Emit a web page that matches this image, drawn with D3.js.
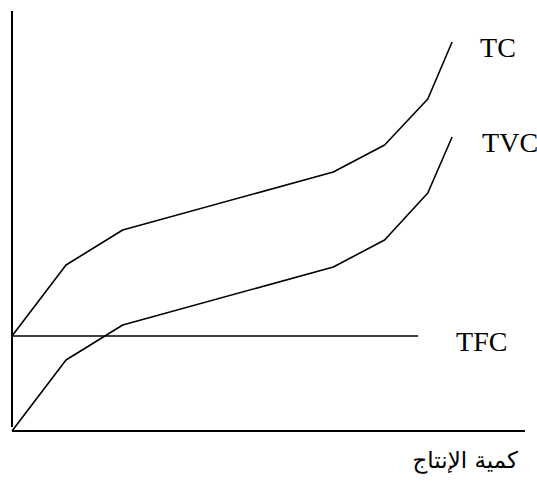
<!DOCTYPE html>
<html>
<head>
<meta charset="utf-8">
<script src="https://cdn.jsdelivr.net/npm/d3@7"></script>
<style>
  html, body { margin: 0; padding: 0; background: #fff; }
  .curve { fill: none; stroke: #000; stroke-width: 1.6; stroke-linejoin: round; }
  .axis-line { stroke: #000; stroke-width: 2; }
  .lbl { font-family: "Liberation Serif", "Times New Roman", serif; font-size: 28px; fill: #000; }
  .xlbl { font-family: "DejaVu Sans", sans-serif; font-size: 23px; fill: #000; }
</style>
</head>
<body>
<div id="chart"></div>
<script>
// --- data (quantity in arbitrary units, cost in arbitrary units) ---
const quantity = [0, 1, 2.05, 5.95, 6.9, 7.7, 8.15];
const tvcValues = [0, 7.1, 10.6, 16.4, 19.1, 23.8, 29.4];
const tcValues = [9.5, 16.6, 20.1, 25.9, 28.6, 33.2, 38.9];
const tfcValue = 9.5;
const tfcEnd = 7.52;
const seriesLabels = ["TC", "TVC", "TFC"];
const xAxisLabel = "كمية الإنتاج";

// --- setup ---
const W = 537, H = 483;
const svg = d3.select("#chart").append("svg")
    .attr("width", W)
    .attr("height", H);

const x = d3.scaleLinear().domain([0, 9.5]).range([12, 525]);
const y = d3.scaleLinear().domain([0, 42]).range([431, 11]);

const line = d3.line()
    .x(d => x(d[0]))
    .y(d => y(d[1]));

// axes (plain lines, no ticks)
svg.append("line")
    .attr("class", "axis-line")
    .attr("x1", x(0)).attr("x2", x(0))
    .attr("y1", y(42)).attr("y2", y(0.4));

svg.append("line")
    .attr("class", "axis-line")
    .attr("x1", x(0)).attr("x2", x(9.5))
    .attr("y1", y(0)).attr("y2", y(0));

// TFC - flat line
svg.append("path")
    .attr("class", "curve")
    .attr("d", line([[0, tfcValue], [tfcEnd, tfcValue]]));

// TVC
svg.append("path")
    .attr("class", "curve")
    .attr("d", line(quantity.map((q, i) => [q, tvcValues[i]])));

// TC
svg.append("path")
    .attr("class", "curve")
    .attr("d", line(quantity.map((q, i) => [q, tcValues[i]])));

// labels
const lastQ = quantity[quantity.length - 1];
svg.append("text").attr("class", "lbl")
    .attr("x", x(lastQ) + 28).attr("y", y(tcValues[tcValues.length - 1]) + 15)
    .text(seriesLabels[0]);

svg.append("text").attr("class", "lbl")
    .attr("x", x(lastQ) + 30).attr("y", y(tvcValues[tvcValues.length - 1]) + 15)
    .text(seriesLabels[1]);

svg.append("text").attr("class", "lbl")
    .attr("x", x(tfcEnd) + 38).attr("y", y(tfcValue) + 15)
    .text(seriesLabels[2]);

svg.append("text").attr("class", "xlbl")
    .attr("x", 518).attr("y", y(0) + 37)
    .style("text-anchor", "end")
    .text(xAxisLabel);
</script>
</body>
</html>
